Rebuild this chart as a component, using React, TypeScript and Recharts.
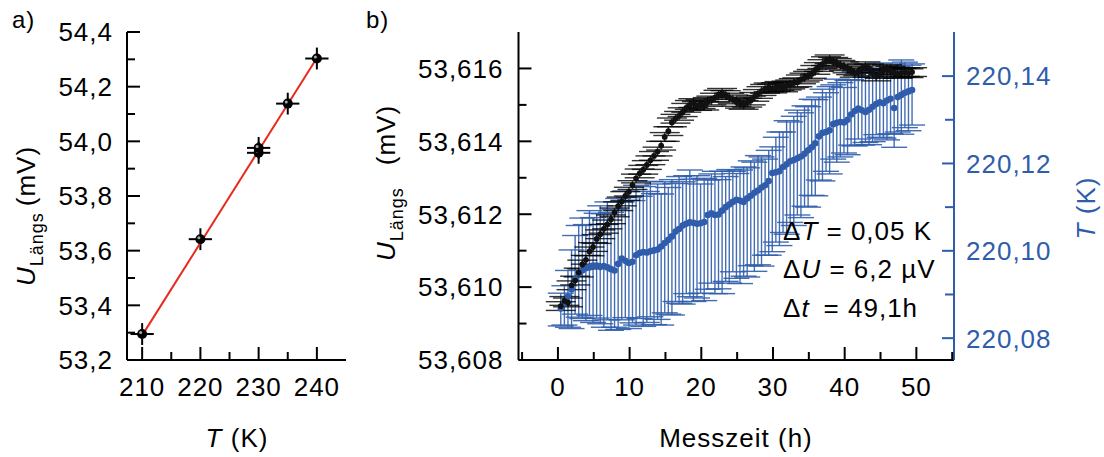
import { ComposedChart, Scatter, XAxis, YAxis, ErrorBar } from "recharts";

const FONT = "'Liberation Sans', Arial, Helvetica, sans-serif";
const BLUE = "#2f5dab";
const RED = "#e8291e";

// ---- a) U_Längs vs temperature
const calT = [210, 220, 230, 230, 235, 240];
const calU = [53.295, 53.642, 53.958, 53.976, 54.138, 54.303];
const calTErr = [2, 2, 2, 2, 2, 2];
const calUErr = [0.04, 0.04, 0.04, 0.04, 0.04, 0.04];
const fitT = [210, 240];
const fitU = [53.29, 54.305];
const calXTicks = [210, 215, 220, 225, 230, 235, 240];
const calYTicks = [53.2, 53.3, 53.4, 53.5, 53.6, 53.7, 53.8, 53.9, 54.0, 54.1, 54.2, 54.3, 54.4];

// ---- b) long-time measurement
const hours = [
  0.4, 0.9, 1.4, 1.9, 2.4, 2.9, 3.4, 3.9, 4.4, 4.9,
  5.4, 5.9, 6.4, 6.9, 7.4, 7.9, 8.4, 8.9, 9.4, 9.9,
  10.4, 10.9, 11.4, 11.9, 12.4, 12.9, 13.4, 13.9, 14.4, 14.9,
  15.4, 15.9, 16.4, 16.9, 17.4, 17.9, 18.4, 18.9, 19.4, 19.9,
  20.4, 20.9, 21.4, 21.9, 22.4, 22.9, 23.4, 23.9, 24.4, 24.9,
  25.4, 25.9, 26.4, 26.9, 27.4, 27.9, 28.4, 28.9, 29.4, 29.9,
  30.4, 30.9, 31.4, 31.9, 32.4, 32.9, 33.4, 33.9, 34.4, 34.9,
  35.4, 35.9, 36.4, 36.9, 37.4, 37.9, 38.4, 38.9, 39.4, 39.9,
  40.4, 40.9, 41.4, 41.9, 42.4, 42.9, 43.4, 43.9, 44.4, 44.9,
  45.4, 45.9, 46.4, 46.9, 47.4, 47.9, 48.4, 48.9, 49.4,
];
const uLaengs = [
  53.60948, 53.60962, 53.60958, 53.61005, 53.61018, 53.6104, 53.61062, 53.61075, 53.61098, 53.6111,
  53.61132, 53.61145, 53.6116, 53.61172, 53.61186, 53.61205, 53.61222, 53.61235, 53.6125, 53.61262,
  53.6128, 53.61298, 53.61312, 53.61322, 53.61335, 53.61348, 53.6136, 53.61372, 53.61388, 53.61412,
  53.61428, 53.61452, 53.61462, 53.6147, 53.6148, 53.61492, 53.615, 53.61505, 53.61497, 53.61502,
  53.61498, 53.61508, 53.61512, 53.6152, 53.61528, 53.61533, 53.61527, 53.6152, 53.61515, 53.61508,
  53.61503, 53.615, 53.61506, 53.61512, 53.61522, 53.6153, 53.61538, 53.61544, 53.61548, 53.61545,
  53.61549, 53.61552, 53.61548, 53.61553, 53.61556, 53.6156, 53.61562, 53.6157, 53.61575, 53.6158,
  53.61585, 53.61596, 53.61604, 53.61612, 53.6162, 53.61625, 53.61618, 53.61615, 53.6161, 53.61606,
  53.616, 53.61595, 53.61588, 53.61592, 53.616, 53.61606, 53.616, 53.61588, 53.61578, 53.61585,
  53.61595, 53.61598, 53.61594, 53.6159, 53.61585, 53.61588, 53.6159, 53.61587, 53.6159,
];
const uErr = 0.00012;
const tProbe = [
  220.0868, 220.088, 220.0895, 220.0912, 220.0935, 220.0948, 220.0955, 220.096, 220.0962, 220.0966,
  220.0966, 220.0963, 220.0965, 220.0962, 220.0958, 220.0955, 220.097, 220.0982, 220.0977, 220.0972,
  220.0975, 220.099, 220.0995, 220.0997, 220.0996, 220.0999, 220.1001, 220.1003, 220.101, 220.1018,
  220.1025, 220.1033, 220.1044, 220.105, 220.1058, 220.1062, 220.1065, 220.1064, 220.1062, 220.1063,
  220.1066, 220.1082, 220.1086, 220.1082, 220.1083, 220.1092, 220.11, 220.1106, 220.1112, 220.1117,
  220.1115, 220.1112, 220.112, 220.1126, 220.1133, 220.1138, 220.1145, 220.115, 220.116, 220.1178,
  220.118, 220.1182, 220.1192, 220.1198, 220.1205, 220.1208, 220.1212, 220.1216, 220.1222, 220.123,
  220.1237, 220.1246, 220.1262, 220.127, 220.1272, 220.1276, 220.129, 220.1293, 220.1295, 220.1294,
  220.13, 220.1312, 220.132, 220.1326, 220.1322, 220.1318, 220.1323, 220.133, 220.1336, 220.134,
  220.1338, 220.1344, 220.1348, 220.1327, 220.1352, 220.1357, 220.1362, 220.1365, 220.1368,
];
const tErrLow = [
  0.004, 0.005, 0.007, 0.009, 0.008, 0.01, 0.011, 0.012, 0.011, 0.013,
  0.012, 0.013, 0.014, 0.012, 0.014, 0.013, 0.015, 0.014, 0.013, 0.015,
  0.014, 0.016, 0.015, 0.017, 0.016, 0.015, 0.017, 0.016, 0.018, 0.016,
  0.017, 0.018, 0.016, 0.017, 0.018, 0.016, 0.017, 0.018, 0.017, 0.016,
  0.018, 0.017, 0.016, 0.018, 0.017, 0.019, 0.017, 0.018, 0.016, 0.018,
  0.019, 0.017, 0.018, 0.016, 0.018, 0.017, 0.018, 0.016, 0.017, 0.018,
  0.016, 0.017, 0.015, 0.016, 0.014, 0.015, 0.013, 0.014, 0.012, 0.013,
  0.011, 0.012, 0.01, 0.011, 0.009, 0.01, 0.008, 0.009, 0.008, 0.007,
  0.008, 0.007, 0.008, 0.007, 0.008, 0.007, 0.008, 0.008, 0.007, 0.008,
  0.008, 0.009, 0.008, 0.009, 0.008, 0.009, 0.008, 0.009, 0.008,
];
const tErrHigh = [
  0.0035, 0.004, 0.006, 0.009, 0.01, 0.011, 0.012, 0.01, 0.013, 0.011,
  0.012, 0.014, 0.012, 0.015, 0.013, 0.014, 0.015, 0.013, 0.016, 0.015,
  0.014, 0.016, 0.013, 0.015, 0.014, 0.016, 0.013, 0.015, 0.012, 0.014,
  0.012, 0.013, 0.011, 0.012, 0.01, 0.011, 0.012, 0.01, 0.011, 0.009,
  0.01, 0.008, 0.009, 0.01, 0.008, 0.009, 0.007, 0.008, 0.007, 0.006,
  0.007, 0.008, 0.007, 0.008, 0.007, 0.008, 0.007, 0.006, 0.007, 0.006,
  0.008, 0.009, 0.008, 0.01, 0.009, 0.01, 0.011, 0.01, 0.011, 0.01,
  0.011, 0.01, 0.009, 0.01, 0.009, 0.01, 0.009, 0.01, 0.009, 0.008,
  0.009, 0.008, 0.009, 0.008, 0.009, 0.008, 0.009, 0.008, 0.008, 0.009,
  0.008, 0.007, 0.008, 0.009, 0.007, 0.008, 0.007, 0.006, 0.006,
];
const timeTicks = [-5, 0, 5, 10, 15, 20, 25, 30, 35, 40, 45, 50, 55];
const uTicks = [53.608, 53.609, 53.61, 53.611, 53.612, 53.613, 53.614, 53.615, 53.616];
const tTicks = [220.08, 220.09, 220.1, 220.11, 220.12, 220.13, 220.14];

const AXIS = { stroke: "#000", strokeWidth: 2 };
const LABEL = { fontFamily: FONT, fontSize: 26, letterSpacing: 1 };

type Side = "bottom" | "top" | "left" | "right";

function axisTick(
  side: Side,
  isMajor: (v: number) => boolean,
  label: ((v: number) => string) | null,
  color = "#000",
  gap = 0,
  majorLen = 13,
  minorLen = 8
) {
  return (props: any) => {
    const { x, y, payload } = props;
    const v = payload.value as number;
    const major = isMajor(v);
    const len = major ? majorLen : minorLen;
    let x2 = x;
    let y2 = y;
    if (side === "bottom") y2 = y - len;
    if (side === "top") y2 = y + len;
    if (side === "left") x2 = x + len;
    if (side === "right") x2 = x - len;
    let txt = null;
    if (label && major) {
      if (side === "bottom")
        txt = (
          <text x={x} y={y + gap} textAnchor="middle" fill={color} {...LABEL}>
            {label(v)}
          </text>
        );
      if (side === "left")
        txt = (
          <text x={x - gap} y={y} dy="0.36em" textAnchor="end" fill={color} {...LABEL}>
            {label(v)}
          </text>
        );
      if (side === "right")
        txt = (
          <text x={x + gap} y={y} dy="0.36em" textAnchor="start" fill={color} {...LABEL}>
            {label(v)}
          </text>
        );
    }
    return (
      <g>
        <line x1={x} y1={y} x2={x2} y2={y2} stroke={color} strokeWidth={2} />
        {txt}
      </g>
    );
  };
}

const comma = (d: number) => (v: number) => v.toFixed(d).replace(".", ",");

function CalDot(props: any) {
  const { cx, cy } = props;
  return (
    <g>
      <circle cx={cx} cy={cy} r={5} fill="#000" />
      <circle cx={cx - 1.5} cy={cy - 1.5} r={1.5} fill="#aaa" />
    </g>
  );
}

function BlackDot(props: any) {
  return <circle cx={props.cx} cy={props.cy} r={2.9} fill="#111" />;
}

function BlueDot(props: any) {
  return <circle cx={props.cx} cy={props.cy} r={3.3} fill={BLUE} />;
}

export default function App() {
  const calRows = calT.map((T, i) => ({ T, U: calU[i], tErr: calTErr[i], uErr: calUErr[i] }));
  const fitRows = fitT.map((T, i) => ({ T, U: fitU[i] }));
  const uRows = hours.map((t, i) => ({ t, u: uLaengs[i], uErr }));
  const tRows = hours.map((t, i) => ({ t, T: tProbe[i], tErr: [tErrLow[i], tErrHigh[i]] }));

  const calXMajor = (v: number) => v % 10 === 0;
  const calYMajor = (v: number) => Math.round(v * 10) % 2 === 0;
  const timeMajor = (v: number) => Math.round(v) % 10 === 0;
  const uMajor = (v: number) => Math.round(v * 1000) % 2 === 0;
  const tMajor = (v: number) => Math.round(v * 100) % 2 === 0;

  return (
    <div
      style={{
        position: "absolute",
        left: 0,
        top: 0,
        width: 1104,
        height: 457,
        background: "#fff",
        fontFamily: FONT,
        overflow: "hidden",
      }}
    >
      {/* a) */}
      <div style={{ position: "absolute", left: 0, top: 0 }}>
        <ComposedChart width={360} height={457} margin={{ top: 32, right: 14, bottom: 0, left: 0 }}>
          <XAxis
            xAxisId="b"
            type="number"
            dataKey="T"
            domain={[207.4, 245]}
            allowDataOverflow
            ticks={calXTicks}
            interval={0}
            height={97}
            tickSize={0}
            tickMargin={0}
            tickLine={false}
            axisLine={AXIS}
            tick={axisTick("bottom", calXMajor, (v) => String(v), "#000", 36)}
          />
          <XAxis
            xAxisId="t"
            type="number"
            dataKey="T"
            orientation="top"
            domain={[207.4, 245]}
            allowDataOverflow
            ticks={calXTicks}
            interval={0}
            height={0}
            tickSize={0}
            tickMargin={0}
            tickLine={false}
            axisLine={AXIS}
            tick={axisTick("top", calXMajor, null)}
          />
          <YAxis
            yAxisId="l"
            type="number"
            dataKey="U"
            domain={[53.2, 54.4]}
            allowDataOverflow
            ticks={calYTicks}
            interval={0}
            width={127}
            tickSize={0}
            tickMargin={0}
            tickLine={false}
            axisLine={AXIS}
            tick={axisTick("left", calYMajor, comma(1), "#000", 14)}
          />
          <YAxis
            yAxisId="r"
            type="number"
            dataKey="U"
            orientation="right"
            domain={[53.2, 54.4]}
            allowDataOverflow
            ticks={calYTicks}
            interval={0}
            width={0}
            tickSize={0}
            tickMargin={0}
            tickLine={false}
            axisLine={AXIS}
            tick={axisTick("right", calYMajor, null)}
          />
          <Scatter
            data={fitRows}
            xAxisId="b"
            yAxisId="l"
            line={{ stroke: RED, strokeWidth: 2 }}
            shape={() => <g />}
            isAnimationActive={false}
          />
          <Scatter data={calRows} xAxisId="b" yAxisId="l" shape={CalDot} isAnimationActive={false}>
            <ErrorBar dataKey="tErr" direction="x" width={0} stroke="#000" strokeWidth={2} isAnimationActive={false} />
            <ErrorBar dataKey="uErr" direction="y" width={0} stroke="#000" strokeWidth={2} isAnimationActive={false} />
          </Scatter>
        </ComposedChart>
      </div>

      {/* b) */}
      <div style={{ position: "absolute", left: 360, top: 0 }}>
        <ComposedChart width={744} height={457} margin={{ top: 32, right: 0, bottom: 0, left: 0 }}>
          <XAxis
            xAxisId="b"
            type="number"
            dataKey="t"
            domain={[-5.5, 55.25]}
            allowDataOverflow
            ticks={timeTicks}
            interval={0}
            height={97}
            tickSize={0}
            tickMargin={0}
            tickLine={false}
            axisLine={AXIS}
            tick={axisTick("bottom", timeMajor, (v) => String(v), "#000", 36)}
          />
          <XAxis
            xAxisId="top"
            type="number"
            dataKey="t"
            orientation="top"
            domain={[-5.5, 55.25]}
            allowDataOverflow
            ticks={timeTicks}
            interval={0}
            height={0}
            tickSize={0}
            tickMargin={0}
            tickLine={false}
            axisLine={AXIS}
            tick={axisTick("top", timeMajor, null)}
          />
          <YAxis
            yAxisId="U"
            type="number"
            dataKey="u"
            domain={[53.608, 53.617]}
            allowDataOverflow
            ticks={uTicks}
            interval={0}
            width={158.5}
            tickSize={0}
            tickMargin={0}
            tickLine={false}
            axisLine={AXIS}
            tick={axisTick("left", uMajor, comma(3), "#000", 15)}
          />
          <YAxis
            yAxisId="T"
            type="number"
            dataKey="T"
            orientation="right"
            domain={[220.075, 220.1501]}
            allowDataOverflow
            ticks={tTicks}
            interval={0}
            width={150}
            tickSize={0}
            tickMargin={0}
            tickLine={false}
            axisLine={{ stroke: BLUE, strokeWidth: 2 }}
            tick={axisTick("right", tMajor, comma(2), BLUE, 12, 12, 9)}
          />
          <Scatter data={tRows} xAxisId="b" yAxisId="T" shape={BlueDot} isAnimationActive={false}>
            <ErrorBar
              dataKey="tErr"
              direction="y"
              width={13}
              stroke={BLUE}
              strokeWidth={1.4}
              strokeOpacity={0.9}
              isAnimationActive={false}
            />
          </Scatter>
          <Scatter data={uRows} xAxisId="b" yAxisId="U" shape={BlackDot} isAnimationActive={false}>
            <ErrorBar
              dataKey="uErr"
              direction="y"
              width={15}
              stroke="#000"
              strokeWidth={1.4}
              strokeOpacity={0.8}
              isAnimationActive={false}
            />
          </Scatter>
        </ComposedChart>
      </div>

      {/* titles and annotations */}
      <svg
        width={1104}
        height={457}
        style={{ position: "absolute", left: 0, top: 0, pointerEvents: "none" }}
        fontFamily={FONT}
        letterSpacing={1}
      >
        <text x={12} y={28} fontSize={24}>a)</text>
        <text x={366} y={28} fontSize={24}>b)</text>

        <text x={237} y={447} fontSize={26} textAnchor="middle">
          <tspan fontStyle="italic">T</tspan> (K)
        </text>
        <text x={736} y={447} fontSize={26} textAnchor="middle">
          Messzeit (h)
        </text>

        <g transform="translate(35,216) rotate(-90)">
          <text x={0} y={0} fontSize={26} textAnchor="middle">
            <tspan fontStyle="italic">U</tspan>
            <tspan fontSize={18} dy={8}>Längs</tspan>
            <tspan dy={-8} dx={6}>(mV)</tspan>
          </text>
        </g>
        <g transform="translate(395,183) rotate(-90)">
          <text x={0} y={0} fontSize={26} textAnchor="middle">
            <tspan fontStyle="italic">U</tspan>
            <tspan fontSize={18} dy={8}>Längs</tspan>
            <tspan dy={-8} dx={22}>(mV)</tspan>
          </text>
        </g>
        <g transform="translate(1095,208) rotate(-90)">
          <text x={0} y={0} fontSize={26} textAnchor="middle" fill={BLUE}>
            <tspan fontStyle="italic">T</tspan> (K)
          </text>
        </g>

        <text x={783} y={240} fontSize={26}>
          Δ<tspan fontStyle="italic">T</tspan> = 0,05 K
        </text>
        <text x={783} y={278} fontSize={26}>
          Δ<tspan fontStyle="italic">U</tspan> = 6,2 µV
        </text>
        <text x={783} y={317} fontSize={26}>
          Δ<tspan fontStyle="italic">t</tspan>
          <tspan dx={14}>= 49,1h</tspan>
        </text>
      </svg>
    </div>
  );
}
